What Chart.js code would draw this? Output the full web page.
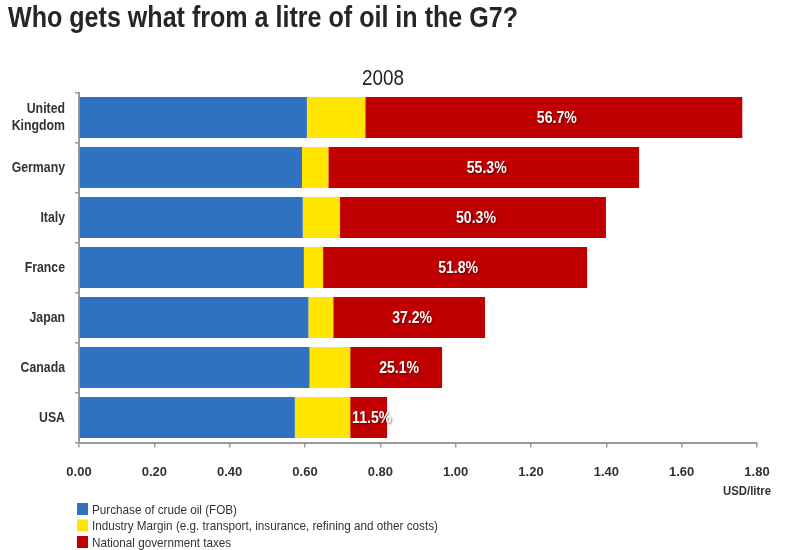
<!DOCTYPE html>
<html>
<head>
<meta charset="utf-8">
<script src="https://cdn.jsdelivr.net/npm/chart.js@4"></script>
<style>
html,body{margin:0;padding:0;background:#fff;}
#wrap{position:relative;width:800px;height:550px;}
</style>
</head>
<body>
<div id="wrap"><canvas id="c" width="800" height="550"></canvas></div>
<script>
/* ── data (USD per litre, 2008) ── */
const countries=[['United','Kingdom'],'Germany','Italy','France','Japan','Canada','USA'];
const crudeOil=[0.605,0.592,0.594,0.597,0.609,0.612,0.573];
const industryMargin=[0.155,0.070,0.099,0.051,0.066,0.108,0.147];
const govTaxes=[1.001,0.825,0.706,0.701,0.403,0.244,0.098];
const taxShare=['56.7%','55.3%','50.3%','51.8%','37.2%','25.1%','11.5%'];
const seriesNames=['Purchase of crude oil (FOB)','Industry Margin (e.g. transport, insurance, refining and other costs)','National government taxes'];
const xTicks=[0,0.2,0.4,0.6,0.8,1.0,1.2,1.4,1.6,1.8];

const SANS="'Liberation Sans',Arial,sans-serif";
const cols=['#2e72c0','#ffe500','#c00000'];
const axisc='#9a9a9a';

// reference uses a narrow face: draw Liberation Sans squeezed horizontally
function squeezed(ctx,txt,x,y,k){ctx.fillText(txt,x,y,ctx.measureText(txt).width*k);}

const extras={
  id:'extras',
  afterDatasetsDraw(chart){
    const ctx=chart.ctx;
    ctx.save();
    // share of the price going to taxes, centred in the red segment
    const meta=chart.getDatasetMeta(2);
    ctx.font='bold 16px '+SANS;ctx.fillStyle='#fff';ctx.textAlign='center';ctx.textBaseline='middle';
    ctx.shadowColor='rgba(0,0,0,0.55)';ctx.shadowOffsetX=1;ctx.shadowOffsetY=1;ctx.shadowBlur=2;
    meta.data.forEach((b,i)=>{squeezed(ctx,taxShare[i],(b.x+b.base)/2+3,b.y+1,0.88);});
    ctx.restore();
  },
  afterDraw(chart){
    const ctx=chart.ctx,ys=chart.scales.y;
    ctx.save();
    // country labels
    ctx.font='bold 15px '+SANS;ctx.fillStyle='#333';ctx.textAlign='right';ctx.textBaseline='middle';
    countries.forEach((c,i)=>{
      const y=ys.getPixelForTick(i),lines=[].concat(c);
      lines.forEach((t,j)=>squeezed(ctx,t,65,y+(j-(lines.length-1)/2)*17,0.82));
    });
    ctx.textBaseline='alphabetic';
    ctx.fillStyle='#262626';ctx.font='bold 30px '+SANS;ctx.textAlign='left';
    ctx.fillText('Who gets what from a litre of oil in the G7?',8,27,510);
    ctx.font='22px '+SANS;ctx.textAlign='center';ctx.fillStyle='#222';
    ctx.fillText('2008',383,85,42);
    ctx.font='bold 12px '+SANS;ctx.textAlign='right';ctx.fillStyle='#333';
    ctx.fillText('USD/litre',771,495,48);
    // legend, one entry per row
    ctx.textAlign='left';ctx.font='13px '+SANS;
    seriesNames.forEach((n,i)=>{
      const y=509+i*16.5;
      ctx.fillStyle=cols[i];ctx.fillRect(77,y-6,11,12);
      ctx.fillStyle='#333';ctx.textBaseline='middle';
      squeezed(ctx,n,92,y+1,0.9);
    });
    ctx.restore();
  }
};

new Chart(document.getElementById('c'),{
  type:'bar',
  data:{labels:countries,datasets:[
    {label:seriesNames[0],data:crudeOil,backgroundColor:cols[0]},
    {label:seriesNames[1],data:industryMargin,backgroundColor:cols[1]},
    {label:seriesNames[2],data:govTaxes,backgroundColor:cols[2]}
  ]},
  options:{
    indexAxis:'y',responsive:false,animation:false,
    datasets:{bar:{categoryPercentage:1,barPercentage:0.82,borderWidth:0}},
    layout:{padding:{left:0,right:43,top:92.5,bottom:67.5}},
    plugins:{legend:{display:false},tooltip:{enabled:false},title:{display:false}},
    scales:{
      x:{stacked:true,min:0,max:1.8,
        afterBuildTicks:s=>{s.ticks=xTicks.map(v=>({value:v}));},
        afterFit:s=>{s.height=40;},
        grid:{drawOnChartArea:false,drawTicks:true,tickLength:5,color:axisc,lineWidth:1.5},
        border:{color:axisc,width:2},
        ticks:{padding:17,color:'#333',font:{family:SANS,size:13,weight:'bold'},callback:v=>Number(v).toFixed(2),maxRotation:0}},
      y:{stacked:true,
        afterFit:s=>{s.width=79;},
        grid:{drawOnChartArea:false,drawTicks:true,tickLength:4,color:axisc,lineWidth:1.5,offset:true},
        border:{color:axisc,width:2},
        ticks:{display:false}}
    }
  },
  plugins:[extras]
});
</script>
</body>
</html>
